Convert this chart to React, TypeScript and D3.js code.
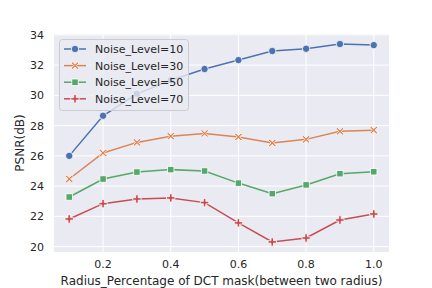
import * as d3 from "d3"

const radius = [0.1, 0.2, 0.3, 0.4, 0.5, 0.6, 0.7, 0.8, 0.9, 1.0]
const noise10 = [26.0, 28.65, 30.1, 31.0, 31.74, 32.33, 32.93, 33.08, 33.39, 33.32]
const noise30 = [24.47, 26.19, 26.89, 27.3, 27.48, 27.25, 26.85, 27.09, 27.62, 27.7]
const noise50 = [23.28, 24.47, 24.93, 25.09, 25.0, 24.2, 23.5, 24.08, 24.82, 24.95]
const noise70 = [21.83, 22.84, 23.15, 23.22, 22.91, 21.57, 20.31, 20.57, 21.76, 22.16]
const seriesNames = ["Noise_Level=10", "Noise_Level=30", "Noise_Level=50", "Noise_Level=70"]
const xTicks = [0.2, 0.4, 0.6, 0.8, 1.0]
const yTicks = [20, 22, 24, 26, 28, 30, 32, 34]

const colors = ["#4c72b0", "#dd8452", "#55a868", "#c44e52"]
const font = "DejaVu Sans, sans-serif"

const width = 432
const height = 288
const left = 54
const right = 389
const top = 34
const bottom = 252

function Marker({ kind, x, y, color }: { kind: number; x: number; y: number; color: string }) {
  const sw = 0.8
  if (kind === 0) return <circle cx={x} cy={y} r={3.7} fill={color} stroke="#fff" strokeWidth={sw} />
  if (kind === 2) return <rect x={x - 3.2} y={y - 3.2} width={6.4} height={6.4} fill={color} stroke="#fff" strokeWidth={sw} />
  if (kind === 1) {
    // filled X
    const a = 3.9, t = 1.3
    const p = [
      [0, -t], [a - t, -a], [a, -a + t], [t, 0], [a, a - t], [a - t, a],
      [0, t], [-a + t, a], [-a, a - t], [-t, 0], [-a, -a + t], [-a + t, -a],
    ]
    return <polygon points={p.map(d => `${x + d[0]},${y + d[1]}`).join(" ")} fill={color} stroke="#fff" strokeWidth={sw} />
  }
  // filled plus
  const a = 4.2, t = 1.25
  const p = [
    [-t, -a], [t, -a], [t, -t], [a, -t], [a, t], [t, t],
    [t, a], [-t, a], [-t, t], [-a, t], [-a, -t], [-t, -t],
  ]
  return <polygon points={p.map(d => `${x + d[0]},${y + d[1]}`).join(" ")} fill={color} stroke="#fff" strokeWidth={sw} />
}

export default function App() {
  const x = d3.scaleLinear().domain([0.055, 1.045]).range([left, right])
  const y = d3.scaleLinear().domain([19.645, 34.055]).range([bottom, top])
  const series = [noise10, noise30, noise50, noise70]
  const line = d3.line<number>().x((_, i) => x(radius[i])).y(d => y(d))

  return (
    <svg width={width} height={height} style={{ position: "absolute", left: 0, top: 0 }} fontFamily={font}>
      <rect width={width} height={height} fill="#fff" />
      <rect x={left} y={top} width={right - left} height={bottom - top} fill="#eaeaf2" />
      {xTicks.map(t => (
        <g key={"x" + t}>
          <line x1={x(t)} x2={x(t)} y1={top} y2={bottom} stroke="#fff" strokeWidth={1} />
          <text x={x(t)} y={bottom + 16} textAnchor="middle" fontSize={11} fill="#262626">{t.toFixed(1)}</text>
        </g>
      ))}
      {yTicks.map(t => (
        <g key={"y" + t}>
          <line x1={left} x2={right} y1={y(t)} y2={y(t)} stroke="#fff" strokeWidth={1} />
          <text x={left - 10} y={y(t) + 4} textAnchor="end" fontSize={11} fill="#262626">{t}</text>
        </g>
      ))}
      {series.map((s, k) => (
        <g key={"s" + k}>
          <path d={line(s) ?? ""} fill="none" stroke={colors[k]} strokeWidth={1.5} />
          {s.map((v, i) => <Marker key={i} kind={k} x={x(radius[i])} y={y(v)} color={colors[k]} />)}
        </g>
      ))}
      <g>
        <rect x={59.5} y={39.5} width={129} height={71} rx={3} fill="#eaeaf2" fillOpacity={0.8} stroke="#cccccc" strokeWidth={1} />
        {seriesNames.map((n, k) => {
          const ly = 49 + k * 16.6
          return (
            <g key={n}>
              <line x1={64} x2={86} y1={ly} y2={ly} stroke={colors[k]} strokeWidth={1.5} />
              <Marker kind={k} x={75} y={ly} color={colors[k]} />
              <text x={95} y={ly + 4} fontSize={11} fill="#262626">{n}</text>
            </g>
          )
        })}
      </g>
      <text x={(left + right) / 2} y={285} textAnchor="middle" fontSize={12} fill="#262626">
        Radius_Percentage of DCT mask(between two radius)
      </text>
      <text transform={`translate(24,${(top + bottom) / 2}) rotate(-90)`} textAnchor="middle" fontSize={12} fill="#262626">
        PSNR(dB)
      </text>
    </svg>
  )
}
